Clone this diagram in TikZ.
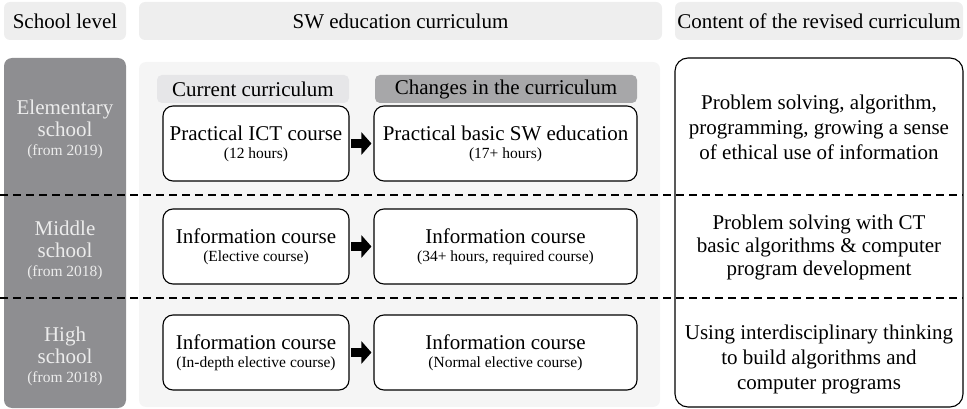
\documentclass[tikz,border=0pt]{standalone}
\usepackage{fontspec}
\setmainfont{Liberation Serif}
\usetikzlibrary{arrows.meta}

\definecolor{headgray}{HTML}{EEEEEE}
\definecolor{colgray}{HTML}{8E8E91}
\definecolor{coltext}{HTML}{ECECEC}
\definecolor{panelgray}{HTML}{F5F5F5}
\definecolor{curgray}{HTML}{E6E6E8}
\definecolor{chggray}{HTML}{A7A7A9}

\newcommand{\maintxt}{\fontsize{21}{25}\selectfont}
\newcommand{\subtxt}{\fontsize{15.5}{20}\selectfont}

\tikzset{
	head/.style={fill=headgray, rounded corners=6pt, inner sep=0pt, font=\maintxt},
	course/.style={draw, line width=1.1pt, fill=white, rounded corners=10pt, align=center,
		minimum height=75pt, inner sep=0pt, font=\maintxt},
	level/.style={align=center, text=coltext, font=\maintxt},
	content/.style={align=center, font=\maintxt},
	fatarrow/.style={line width=9pt, -{Triangle[length=10pt, width=22pt]}, shorten <=1.5pt, shorten >=2pt},
	sep/.style={dashed, dash pattern=on 8pt off 5pt, line width=1.2pt}
}

\begin{document}
\begin{tikzpicture}[x=1pt, y=-1pt]
	\useasboundingbox (0,0) rectangle (967,409);

	% column heads
	\node[head, minimum width=122pt, minimum height=38pt] (lvlhead) at (65,21) {School level};
	\node[head, minimum width=523pt, minimum height=38pt] (swhead) at (400.5,21) {SW education curriculum};
	\node[head, minimum width=288pt, minimum height=38pt] (revhead) at (819,21) {Content of the revised curriculum};

	% backgrounds
	\node[fill=colgray, rounded corners=8pt, minimum width=122pt, minimum height=350pt] (lvlcol) at (65,233) {};
	\node[fill=panelgray, rounded corners=7pt, minimum width=521pt, minimum height=345pt] (swpanel) at (399.5,234.5) {};
	\node[draw, line width=1.1pt, fill=white, rounded corners=13pt, minimum width=288pt, minimum height=349pt] (revbox) at (819,232.5) {};

	% sub heads
	\node[fill=curgray, rounded corners=5pt, minimum width=192pt, minimum height=28pt, inner sep=0pt, font=\maintxt] (curhead) at (253,89) {Current curriculum};
	\node[fill=chggray, rounded corners=5pt, minimum width=262pt, minimum height=28pt, inner sep=0pt, font=\maintxt] (chghead) at (506,89) {Changes in the curriculum};

	% school levels
	\node[level] (elem) at (65,129) {Elementary\\[-3pt]school\\[-6pt]{\subtxt (from 2019)}};
	\node[level] (mid) at (65,250) {Middle\\[-3pt]school\\[-6pt]{\subtxt (from 2018)}};
	\node[level] (high) at (65,356) {High\\[-3pt]school\\[-6pt]{\subtxt (from 2018)}};

	% courses
	\node[course, minimum width=186pt] (cur1) at (256,143.5) {Practical ICT course\\[-7pt]{\subtxt (12 hours)}};
	\node[course, minimum width=263pt] (new1) at (505.5,143.5) {Practical basic SW education\\[-7pt]{\subtxt (17+ hours)}};
	\node[course, minimum width=186pt] (cur2) at (256,246.5) {Information course\\[-7pt]{\subtxt (Elective course)}};
	\node[course, minimum width=263pt] (new2) at (505.5,246.5) {Information course\\[-7pt]{\subtxt (34+ hours, required course)}};
	\node[course, minimum width=186pt] (cur3) at (256,352.5) {Information course\\[-7pt]{\subtxt (In-depth elective course)}};
	\node[course, minimum width=263pt] (new3) at (505.5,352.5) {Information course\\[-7pt]{\subtxt (Normal elective course)}};

	\draw[fatarrow] (cur1.east) -- (new1.west);
	\draw[fatarrow] (cur2.east) -- (new2.west);
	\draw[fatarrow] (cur3.east) -- (new3.west);

	% revised content
	\node[content] (rev1) at (819,127) {Problem solving, algorithm,\\programming, growing a sense\\of ethical use of information};
	\node[content] (rev2) at (819,247) {Problem solving with CT\\[-2pt]basic algorithms \& computer\\[-2pt]program development};
	\node[content] (rev3) at (819,359) {Using interdisciplinary thinking\\to build algorithms and\\computer programs};

	% row separators
	\coordinate (sepl1) at (0,195);
	\coordinate (sepr1) at (963,195);
	\coordinate (sepl2) at (0,298);
	\coordinate (sepr2) at (963,298);
	\draw[sep] (sepl1) -- (sepr1);
	\draw[sep] (sepl2) -- (sepr2);
\end{tikzpicture}
\end{document}
